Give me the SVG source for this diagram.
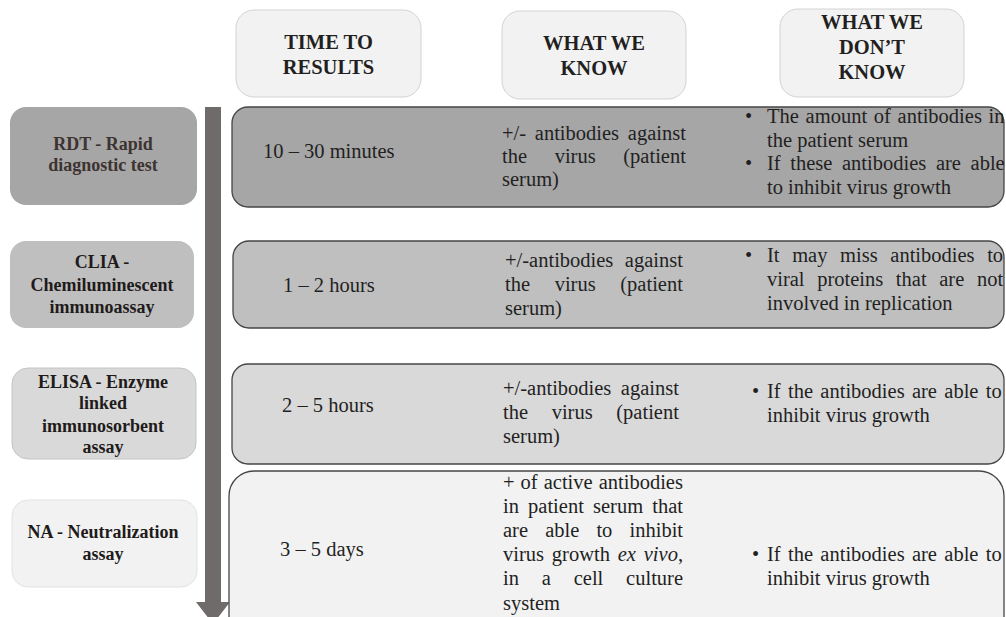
<svg xmlns="http://www.w3.org/2000/svg" width="1006" height="617" viewBox="0 0 1006 617">
<style>
text{font-family:"Liberation Serif","Times New Roman",serif}
.hdr{fill:#f2f2f2;stroke:#d3d3d3;stroke-width:1}
.ht{font-weight:bold;font-size:20.5px;fill:#231f1f;text-anchor:middle}
.lt{font-weight:bold;font-size:18px;fill:#1f1b1b;text-anchor:middle}
.rdt{fill:#3d3330}
.row{stroke:#454545;stroke-width:1.3}
.bt{font-size:20.5px;fill:#231f1f}
.c1{fill:#a6a6a6}.c2{fill:#bfbfbf}.c3{fill:#d9d9d9}.c4{fill:#f2f2f2}
</style>
<rect width="1006" height="617" fill="#ffffff"/>
<g id="connectors">
<rect x="205" y="107" width="16" height="496" fill="#706b6b"/>
<polygon points="196,602 230,602 213,624" fill="#706b6b"/>
</g>
<g id="hdr-time">
<rect class="hdr" x="236" y="10" width="185" height="87" rx="18"/>
<text class="ht" x="328.5" y="49">TIME TO</text>
<text class="ht" x="328.5" y="74">RESULTS</text>
</g>
<g id="hdr-know">
<rect class="hdr" x="502" y="11" width="184" height="88" rx="18"/>
<text class="ht" x="594" y="50">WHAT WE</text>
<text class="ht" x="594" y="75">KNOW</text>
</g>
<g id="hdr-dontknow">
<rect class="hdr" x="780" y="9" width="184" height="88" rx="18"/>
<text class="ht" x="872" y="29">WHAT WE</text>
<text class="ht" x="872" y="54">DON’T</text>
<text class="ht" x="872" y="79">KNOW</text>
</g>
<g id="test-rdt">
<rect class="c1" x="10" y="107" width="187" height="98" rx="16"/>
<text class="lt rdt" x="103" y="150">RDT - Rapid</text>
<text class="lt rdt" x="103" y="171">diagnostic test</text>
</g>
<g id="test-clia">
<rect class="c2" x="10" y="241" width="184" height="87" rx="16"/>
<text class="lt" x="102" y="268">CLIA -</text>
<text class="lt" x="102" y="291">Chemiluminescent</text>
<text class="lt" x="102" y="313">immunoassay</text>
</g>
<g id="test-elisa">
<rect class="c3" x="12" y="368" width="184" height="91" rx="16" stroke="#c4c4c4" stroke-width="1"/>
<text class="lt" x="103" y="388">ELISA - Enzyme</text>
<text class="lt" x="103" y="409">linked</text>
<text class="lt" x="103" y="432">immunosorbent</text>
<text class="lt" x="103" y="453">assay</text>
</g>
<g id="test-na">
<rect class="c4" x="12" y="500" width="185" height="87" rx="16" stroke="#e2e2e2" stroke-width="1"/>
<text class="lt" x="103" y="538">NA - Neutralization</text>
<text class="lt" x="103" y="560">assay</text>
</g>
<g id="row-rdt">
<rect class="row c1" x="232" y="107" width="772" height="100" rx="16"/>
<text class="bt" x="263" y="158">10 – 30 minutes</text>
<text class="bt" x="502" y="140" word-spacing="3.6">+/- antibodies against</text>
<text class="bt" x="502" y="163" word-spacing="22.5">the virus (patient</text>
<text class="bt" x="502" y="186">serum)</text>
<text class="bt" x="745" y="123">•</text>
<text class="bt" x="767" y="123" word-spacing="1.6">The amount of antibodies in</text>
<text class="bt" x="767" y="146.5">the patient serum</text>
<text class="bt" x="745" y="170">•</text>
<text class="bt" x="767" y="170" word-spacing="4.5">If these antibodies are able</text>
<text class="bt" x="767" y="193.5">to inhibit virus growth</text>
</g>
<g id="row-clia">
<rect class="row c2" x="233" y="241" width="771" height="87" rx="16"/>
<text class="bt" x="283" y="292">1 – 2 hours</text>
<text class="bt" x="505" y="267" word-spacing="6.4">+/-antibodies against</text>
<text class="bt" x="505" y="291" word-spacing="19.5">the virus (patient</text>
<text class="bt" x="505" y="315">serum)</text>
<text class="bt" x="745" y="262">•</text>
<text class="bt" x="767" y="262" word-spacing="7.5">It may miss antibodies to</text>
<text class="bt" x="767" y="286" word-spacing="7.5">viral proteins that are not</text>
<text class="bt" x="767" y="310">involved in replication</text>
</g>
<g id="row-elisa">
<rect class="row c3" x="232" y="364" width="772" height="100" rx="16"/>
<text class="bt" x="282" y="412">2 – 5 hours</text>
<text class="bt" x="503" y="395" word-spacing="4.4">+/-antibodies against</text>
<text class="bt" x="503" y="419" word-spacing="18.5">the virus (patient</text>
<text class="bt" x="503" y="443">serum)</text>
<text class="bt" x="752" y="398">•</text>
<text class="bt" x="767" y="398" word-spacing="2.2">If the antibodies are able to</text>
<text class="bt" x="767" y="422">inhibit virus growth</text>
</g>
<g id="row-na">
<rect class="row c4" x="229" y="471" width="775" height="175" rx="25"/>
<text class="bt" x="280" y="556">3 – 5 days</text>
<text class="bt" x="503" y="489" word-spacing="0.9">+ of active antibodies</text>
<text class="bt" x="503" y="513" word-spacing="4">in patient serum that</text>
<text class="bt" x="503" y="537" word-spacing="12">are able to inhibit</text>
<text class="bt" x="503" y="561" word-spacing="2.7">virus growth <tspan font-style="italic">ex vivo</tspan>,</text>
<text class="bt" x="503" y="585" word-spacing="17.7">in a cell culture</text>
<text class="bt" x="503" y="610">system</text>
<text class="bt" x="752" y="561">•</text>
<text class="bt" x="767" y="561" word-spacing="2.2">If the antibodies are able to</text>
<text class="bt" x="767" y="585">inhibit virus growth</text>
</g>
</svg>
